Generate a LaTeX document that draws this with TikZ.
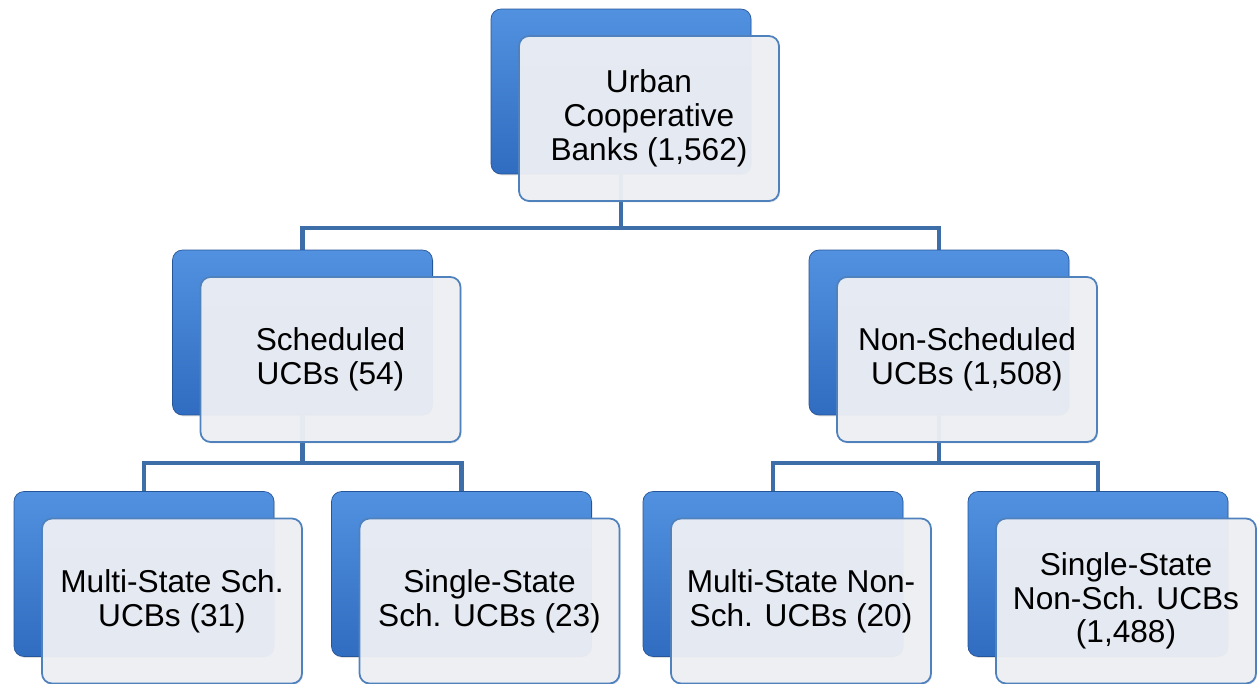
\documentclass[tikz,border=0pt]{standalone}
\usepackage{fontspec}
\setmainfont{Liberation Sans}
\usetikzlibrary{shadows,backgrounds}

\definecolor{boxblueA}{RGB}{82,145,224}
\definecolor{boxblueB}{RGB}{48,108,192}
\definecolor{frontfill}{RGB}{238,240,245}
\definecolor{frontline}{RGB}{79,129,189}
\definecolor{linkblue}{RGB}{62,110,168}

\tikzset{
  backbox/.style={rounded corners=0.2cm, minimum width=5.2cm, minimum height=3.3cm,
    top color=boxblueA, bottom color=boxblueB, draw=boxblueB!80!black, line width=0.4pt,
    drop shadow={opacity=0.25, shadow xshift=0.6pt, shadow yshift=-0.8pt}},
  frontbox/.style={rounded corners=0.2cm, minimum width=5.2cm, minimum height=3.3cm,
    fill=frontfill, fill opacity=0.95, text opacity=1, draw=frontline, line width=1pt,
    align=center, font=\fontsize{18}{19.2}\selectfont,
    drop shadow={opacity=0.2, shadow xshift=0.6pt, shadow yshift=-0.8pt}},
  link/.style={draw=linkblue, line width=2.3pt}
}

\begin{document}
\begin{tikzpicture}[x=0.02cm,y=-0.02cm]
				\useasboundingbox (0,0) rectangle (1257,683);
				% back boxes
				\node[backbox] (ucbB) at (621,91.5) {};
				\node[backbox] (schB) at (302.5,332.5) {};
				\node[backbox] (nschB) at (939,332.5) {};
				\node[backbox] (msB) at (144,574) {};
				\node[backbox] (ssB) at (461.5,574) {};
				\node[backbox] (mnsB) at (773,574) {};
				\node[backbox] (snsB) at (1098,574) {};
				% front boxes
				\node[frontbox,shift={(28,27)}] (ucb) at (ucbB) {Urban\\Cooperative\\Banks (1,562)};
				\node[frontbox,shift={(28,27)}] (sch) at (schB) {Scheduled\\UCBs (54)};
				\node[frontbox,shift={(28,27)}] (nsch) at (nschB) {Non-Scheduled\\UCBs (1,508)};
				\node[frontbox,shift={(28,27)}] (ms) at (msB) {Multi-State Sch.\\UCBs (31)};
				\node[frontbox,shift={(28,27)}] (ss) at (ssB) {Single-State\\Sch. UCBs (23)};
				\node[frontbox,shift={(28,27)}] (mns) at (mnsB) {Multi-State Non-\\Sch. UCBs (20)};
				\node[frontbox,shift={(28,27)}] (sns) at (snsB) {Single-State\\Non-Sch. UCBs\\(1,488)};
				% connectors
				\begin{scope}[on background layer]
				\coordinate (bus1) at (621,228);
				\coordinate (bus2) at (302.5,463);
				\coordinate (bus3) at (939,463);
				\draw[link] (ucbB.south) -- (bus1) -| (schB.north);
				\draw[link] (bus1) -| (nschB.north);
				\draw[link] (schB.south) -- (bus2) -| (msB.north);
				\draw[link] (bus2) -| (ssB.north);
				\draw[link] (nschB.south) -- (bus3) -| (mnsB.north);
				\draw[link] (bus3) -| (snsB.north);
				\end{scope}
\end{tikzpicture}
\end{document}
